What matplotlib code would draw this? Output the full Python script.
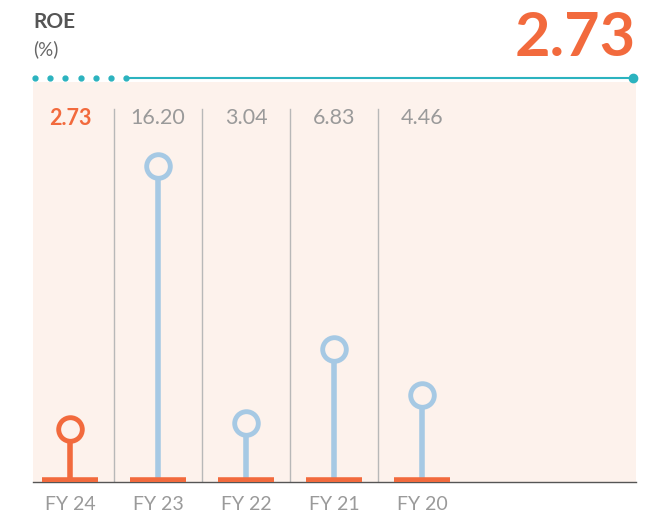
import matplotlib
matplotlib.use("Agg")
import matplotlib.pyplot as plt

categories = ["FY 24", "FY 23", "FY 22", "FY 21", "FY 20"]
values = [2.73, 16.20, 3.04, 6.83, 4.46]
labels = ["2.73", "16.20", "3.04", "6.83", "4.46"]
headline = "2.73"

ORANGE = "#f26a3d"
BLUE = "#a6c9e4"
GRAY = "#9a9a9a"
BG = "#fdf2ec"
TEAL = "#2bb3bf"
FONT = ["Lato", "DejaVu Sans"]

W, H = 668, 519
fig = plt.figure(figsize=(W / 100, H / 100), dpi=100)
fig.patch.set_facecolor("white")

# main axes
l, r, b, t = 33, 636, 482, 82
ax = fig.add_axes([l / W, (H - b) / H, (r - l) / W, (b - t) / H])
ax.set_facecolor(BG)
xs = list(range(len(categories)))
ax.set_xlim(-0.42, 6.43)
ax.set_ylim(0, 20.5)
for s in ["top", "right", "left"]:
    ax.spines[s].set_visible(False)
ax.spines["bottom"].set_color("#555555")
ax.spines["bottom"].set_linewidth(1.0)
ax.set_yticks([])
ax.set_xticks(xs)
ax.set_xticklabels(categories, fontsize=14, color=GRAY, family=FONT)
ax.tick_params(axis="x", length=0, pad=10)

for i, (x, v, lab) in enumerate(zip(xs, values, labels)):
    c = ORANGE if i == 0 else BLUE
    ax.plot([x - 0.32, x + 0.32], [0.1, 0.1], color=ORANGE, lw=4, solid_capstyle="butt", zorder=3)
    ax.plot([x, x], [0, v], color=c, lw=4, zorder=2)
    ax.plot([x], [v], marker="o", ms=17, mfc=BG, mec=c, mew=3.5, zorder=4)
    ax.text(x, 18.65, lab, ha="center", va="center", fontsize=15.5,
            color=ORANGE if i == 0 else GRAY,
            fontweight="bold" if i == 0 else "normal", family=FONT)
    if i < len(xs) - 1:
        ax.plot([x + 0.5, x + 0.5], [0, 19.1], color="#b8b8b8", lw=1, zorder=1)

# header
fig.text(33 / W, 1 - 22 / H, "ROE", fontsize=15, fontweight="bold", color="#555555",
         family=FONT, ha="left", va="center")
fig.text(33 / W, 1 - 49 / H, "(%)", fontsize=13.5, color="#666666",
         family=FONT, ha="left", va="center")
fig.text(636 / W, 1 - 38 / H, headline, fontsize=44, fontweight="bold", color=ORANGE,
         family=FONT, ha="right", va="center")

# teal line
hax = fig.add_axes([0, 0, 1, 1], facecolor="none")
hax.set_xlim(0, W)
hax.set_ylim(H, 0)
hax.axis("off")
dots_x = [35 + 15.2 * k for k in range(7)]
hax.plot(dots_x, [78] * len(dots_x), "o", color=TEAL, ms=3.5, lw=0)
hax.plot([125, 633], [78, 78], color=TEAL, lw=1.5)
hax.plot([633], [78], "o", color=TEAL, ms=6)

fig.savefig("out.png", dpi=100, facecolor="white")
